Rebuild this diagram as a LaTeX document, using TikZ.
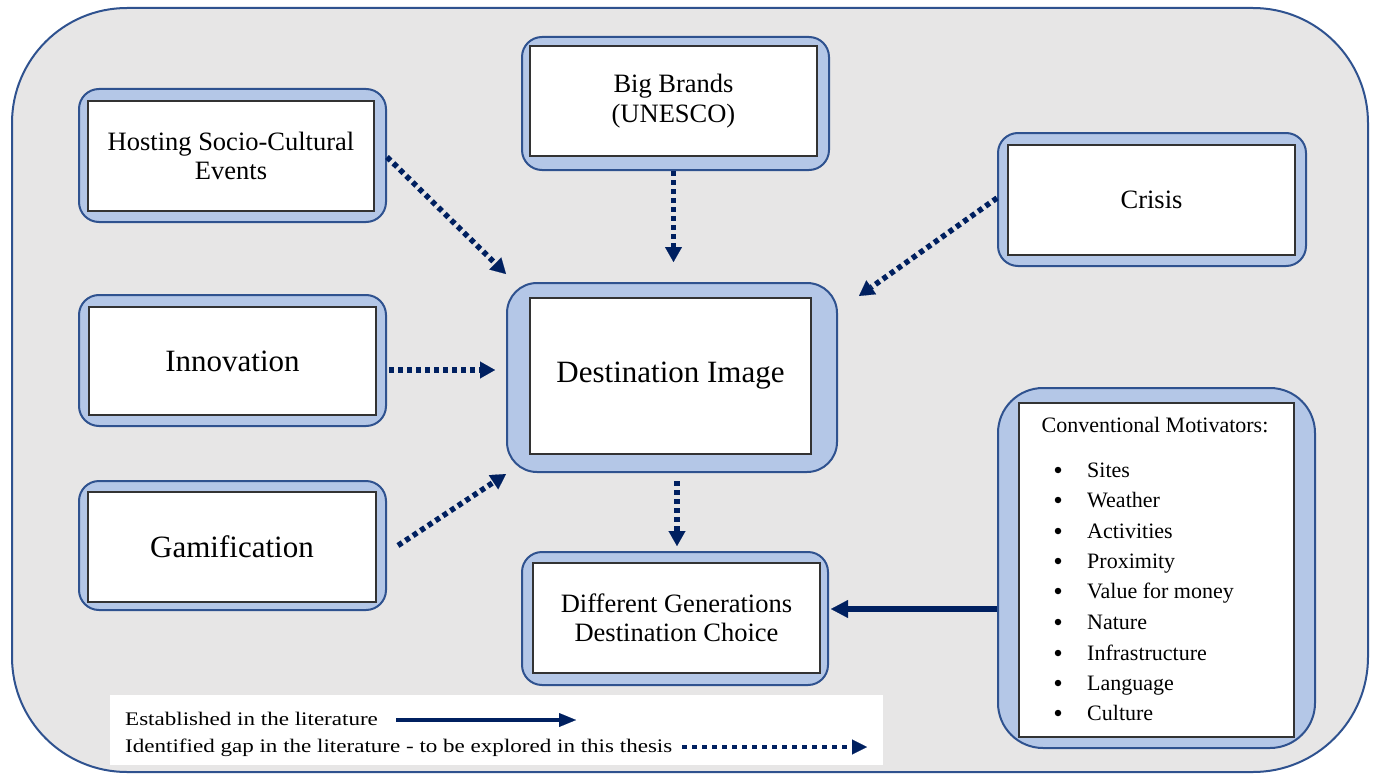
\documentclass[tikz,border=0pt]{standalone}
\usepackage{fontspec}
\setmainfont{Liberation Serif}
\newfontfamily\legfont{Liberation Serif}[FakeStretch=1.2]
\usetikzlibrary{arrows.meta,calc}
\definecolor{navy}{HTML}{002060}
\definecolor{bordblue}{HTML}{2F528F}
\definecolor{boxblue}{HTML}{B4C7E7}
\definecolor{bggray}{HTML}{E7E6E6}
\begin{document}
\begin{tikzpicture}[x=1pt,y=-1pt,
  frame/.style={draw=bordblue, fill=bggray, line width=2pt, rounded corners=115pt, inner sep=0pt},
  outerbox/.style={draw=bordblue, fill=boxblue, line width=2pt, rounded corners=20pt, inner sep=0pt},
  innerbox/.style={draw=black!80, fill=white, line width=1.3pt, inner sep=0pt, align=center, text=black},
  gaparrow/.style={draw=navy, line width=5.5pt, dash pattern=on 5pt off 4pt, -{Triangle[width=17pt,length=15pt,line width=0.1pt]}},
  solidarrow/.style={draw=navy, line width=6pt, -{Triangle[width=18pt,length=17pt,line width=0.1pt]}},
  legtext/.style={anchor=base west, inner sep=0pt, font=\legfont\fontsize{19.2}{22}\selectfont},
  itemtext/.style={anchor=base west, inner sep=0pt, font=\fontsize{22}{26}\selectfont},
  bulletdot/.style={circle, fill=black, inner sep=0pt, minimum size=6.5pt},
]
\useasboundingbox (0,0) rectangle (1374,776);
% background frame
\node[frame, minimum width=1356pt, minimum height=764pt] (bg) at (690,390) {};

% Hosting
\node[outerbox, minimum width=307pt, minimum height=133pt] (host) at (232.5,155.5) {};
\node[innerbox, minimum width=286pt, minimum height=110pt, font=\fontsize{26.5}{29}\selectfont] (hostin) at (231,156) {Hosting Socio-Cultural\\Events};
% Big Brands
\node[outerbox, minimum width=307pt, minimum height=133pt] (big) at (675.5,103.5) {};
\node[innerbox, minimum width=287pt, minimum height=110pt, font=\fontsize{26.5}{30}\selectfont] (bigin) at (673.5,101) {Big Brands\\(UNESCO)};
% Crisis
\node[outerbox, minimum width=308pt, minimum height=133pt] (crisis) at (1152,199.5) {};
\node[innerbox, minimum width=287pt, minimum height=110pt, font=\fontsize{26.5}{30}\selectfont] (crisisin) at (1151.5,200) {Crisis};
% Innovation
\node[outerbox, minimum width=307pt, minimum height=131pt] (inno) at (232.5,360.5) {};
\node[innerbox, minimum width=287pt, minimum height=108pt, font=\fontsize{31}{34}\selectfont] (innoin) at (232.5,361) {Innovation};
% Gamification
\node[outerbox, minimum width=307pt, minimum height=129pt] (gam) at (232.5,545.5) {};
\node[innerbox, minimum width=288pt, minimum height=110pt, font=\fontsize{31}{34}\selectfont] (gamin) at (232,547) {Gamification};
% Destination Image
\node[outerbox, rounded corners=30pt, minimum width=330pt, minimum height=189pt] (dest) at (672,377.5) {};
\node[innerbox, minimum width=281pt, minimum height=156pt, font=\fontsize{31}{34}\selectfont] (destin) at (670.5,376) {\raisebox{8pt}{Destination Image}};
% Different Generations
\node[outerbox, minimum width=306pt, minimum height=133pt] (diff) at (675,618.5) {};
\node[innerbox, minimum width=287pt, minimum height=110pt, font=\fontsize{26.5}{29.5}\selectfont] (diffin) at (676.5,618) {Different Generations\\Destination Choice};
% Conventional Motivators
\node[outerbox, rounded corners=45pt, minimum width=317pt, minimum height=360pt] (conv) at (1156.5,568) {};
\node[innerbox, minimum width=275pt, minimum height=334pt] (convin) at (1156.5,570) {};
\node[inner sep=0pt, anchor=base, font=\fontsize{22}{26}\selectfont] (convtitle) at (1155,432) {Conventional Motivators:};
\foreach \t/\yy [count=\i] in {Sites/470,Weather/500,Activities/531,Proximity/561,Value for money/591,Nature/622,Infrastructure/653,Language/683,Culture/713}{
  \node[bulletdot] (bul\i) at (1058,\yy) {};
  \node[itemtext] (item\i) at (1087,\yy+7.5) {\t};
}

% connectors
\draw[gaparrow] ([yshift=-1.5pt]host.east) -- ([yshift=8pt]dest.north west);
\draw[gaparrow] ([xshift=-2pt]big.south) -- ([xshift=-2pt,yshift=20pt]big.south |- dest.north);
\draw[gaparrow] ([yshift=1.5pt]crisis.west) -- ([xshift=21pt,yshift=-14pt]dest.north east);
\draw[gaparrow] ([xshift=2pt,yshift=-9.5pt]inno.east) -- ([xshift=-11pt,yshift=-9.5pt]inno.east -| dest.west);
\draw[gaparrow] ([xshift=11pt]gam.east) -- ([yshift=-1pt]dest.south west);
\draw[gaparrow] ([xshift=5pt,yshift=-8pt]dest.south) -- ([xshift=2pt,yshift=5pt]diff.north);
\draw[solidarrow] ([yshift=-41pt]conv.west) -- ([xshift=2pt,yshift=-41pt]conv.west -| diff.east);

% legend
\node[fill=white, draw=none, minimum width=773pt, minimum height=70pt, inner sep=0pt] (legend) at (496.5,730) {};
\node[legtext] (lt1) at (125,725) {Established in the literature};
\node[legtext] (lt2) at (125,752) {Identified gap in the literature - to be explored in this thesis};
\coordinate (le1) at (576,720);
\coordinate (le2) at (867,747);
\draw[draw=navy, line width=4.5pt, -{Triangle[width=14pt,length=17pt,line width=0.1pt]}] ([xshift=18pt,yshift=5pt]lt1.base east) -- (le1);
\draw[draw=navy, line width=4.5pt, dash pattern=on 4.5pt off 5.5pt, -{Triangle[width=15pt,length=15pt,line width=0.1pt]}] ([xshift=10pt,yshift=5pt]lt2.base east) -- (le2);
\end{tikzpicture}
\end{document}
